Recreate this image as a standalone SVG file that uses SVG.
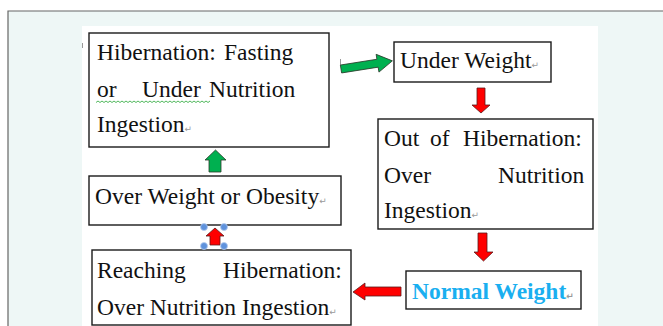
<svg xmlns="http://www.w3.org/2000/svg" width="663" height="326" viewBox="0 0 663 326">
<style>
.box{fill:#fff;stroke:#1a1a1a;stroke-width:1.4}
.t{font-family:"Liberation Serif","Times New Roman",serif;font-size:23.5px;fill:#111}
.nw{font-family:"Liberation Serif","Times New Roman",serif;font-size:23.5px;font-weight:bold;fill:#1aaff0}
.pm{font-family:"DejaVu Sans",sans-serif;font-size:9px;fill:#999}
.red{fill:#ff0000;stroke:#5a1a1a;stroke-width:0.8}
.green{fill:#00b050;stroke:#2a3a2a;stroke-width:0.8}
.h{fill:#5f92dc;stroke:#b8cdee;stroke-width:0.8}
</style>
<rect x="0" y="0" width="663" height="326" fill="#fff"/>
<rect x="8" y="11" width="655" height="315" fill="#eef7f6"/>
<path d="M8 326 V11 H663" fill="none" stroke="#666" stroke-width="1.2"/>
<rect x="82" y="26" width="516" height="300" fill="#fff"/>
<path d="M82.5 43 V48 M340.5 59 V65" stroke="#999" stroke-width="1"/>

<g id="hibernation">
<rect class="box" x="89" y="33" width="240" height="114"/>
<text class="t" y="60"><tspan x="97">Hibernation:</tspan><tspan x="224">Fasting</tspan></text>
<text class="t" y="97"><tspan x="97">or</tspan><tspan x="142">Under</tspan><tspan x="209">Nutrition</tspan></text>
<path d="M96 102.5 l2 -1.5 2 1.5 2 -1.5 2 1.5 2 -1.5 2 1.5 2 -1.5 2 1.5 2 -1.5 2 1.5 2 -1.5 2 1.5 2 -1.5 2 1.5 2 -1.5 2 1.5 2 -1.5 2 1.5 2 -1.5 2 1.5 2 -1.5 2 1.5 2 -1.5 2 1.5 2 -1.5 2 1.5 2 -1.5 2 1.5 2 -1.5 2 1.5 2 -1.5 2 1.5 2 -1.5 2 1.5 2 -1.5 2 1.5 2 -1.5 2 1.5 2 -1.5 2 1.5 2 -1.5 2 1.5 2 -1.5 2 1.5 2 -1.5 2 1.5 2 -1.5 2 1.5 2 -1.5 2 1.5 2 -1.5 2 1.5 2 -1.5 2 1.5 2 -1.5 2 1.5 2 -1.5" fill="none" stroke="#3cb04a" stroke-width="0.9"/>
<text class="t" x="97" y="132">Ingestion<tspan class="pm">↵</tspan></text>
</g>

<g id="underweight">
<rect class="box" x="394" y="42" width="157" height="40"/>
<text class="t" x="400" y="68">Under Weight<tspan class="pm">↵</tspan></text>
</g>

<g id="outofhibernation">
<rect class="box" x="378" y="119" width="215" height="110"/>
<text class="t" y="146"><tspan x="384">Out</tspan><tspan x="430">of</tspan><tspan x="463">Hibernation:</tspan></text>
<text class="t" y="183"><tspan x="384">Over</tspan><tspan x="498">Nutrition</tspan></text>
<text class="t" x="384" y="218">Ingestion<tspan class="pm">↵</tspan></text>
</g>

<g id="normalweight">
<rect class="box" x="406" y="271" width="175" height="38"/>
<text class="nw" x="412" y="299">Normal Weight<tspan class="pm">↵</tspan></text>
</g>

<g id="reaching">
<rect class="box" x="92" y="250" width="259" height="75"/>
<text class="t" y="278"><tspan x="97">Reaching</tspan><tspan x="223">Hibernation:</tspan></text>
<text class="t" x="97" y="315">Over Nutrition Ingestion<tspan class="pm">↵</tspan></text>
</g>

<g id="overweight">
<rect class="box" x="89" y="176" width="252" height="49"/>
<text class="t" x="95" y="204">Over Weight or Obesity<tspan class="pm">↵</tspan></text>
</g>

<g id="connectors">
<polygon class="green" transform="translate(341 69) rotate(-9)" points="0,-4 37,-4 37,-9 52,0 37,9 37,4 0,4"/>
<polygon class="red" points="477,88 485,88 485,105 490,105 481,113 472,105 477,105"/>
<polygon class="red" points="478,233 487,233 487,252 493,252 483.5,261 474,252 478,252"/>
<polygon class="red" points="401,287 365,287 365,283 353,292 365,300 365,296 401,296"/>
<polygon class="green" points="209,172 221,172 221,160 226,160 215.5,150 205,160 209,160"/>
<polygon class="red" points="210,245 220,245 220,236 224,236 215,228 206,236 210,236"/>
<circle class="h" cx="204" cy="227" r="3.5"/>
<circle class="h" cx="224" cy="227" r="3.5"/>
<circle class="h" cx="204" cy="246" r="3.5"/>
<circle class="h" cx="224" cy="246" r="3.5"/>
</g>
</svg>
